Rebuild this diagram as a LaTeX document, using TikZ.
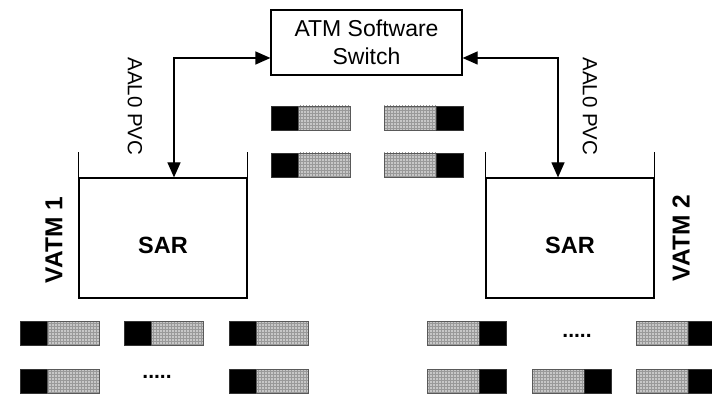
\documentclass[tikz,border=0pt]{standalone}
\usepackage{fontspec}
\setmainfont{Liberation Sans}
\usetikzlibrary{arrows.meta,patterns}

\tikzset{
  base/.style={line width=1.2pt},
  switchbox/.style={base, draw, minimum width=191pt, minimum height=65pt,
    inner sep=0pt, align=center, font=\fontsize{23}{28}\selectfont},
  sarbox/.style={base, draw, minimum width=168pt, minimum height=120pt,
    inner sep=0pt},
  sartext/.style={font=\bfseries\fontsize{23.5}{26}\selectfont, inner sep=0pt},
  vlabel/.style={font=\bfseries\fontsize{24.5}{26}\selectfont, inner sep=0pt},
  pvclabel/.style={font=\fontsize{20.5}{24}\selectfont, inner sep=0pt, rotate=-90},
  dots/.style={font=\bfseries\fontsize{21}{24}\selectfont, inner sep=0pt},
  conn/.style={base, {Triangle[width=13pt,length=15pt]}-{Triangle[width=13pt,length=15pt]}},
  blk/.style={draw=black!80, line width=0.8pt, fill=black, minimum width=27pt,
    minimum height=24pt, inner sep=0pt, outer sep=0pt, anchor=north west},
  gry/.style={draw=black!65, line width=0.8pt, preaction={fill=black!22},
    pattern=grid, pattern color=black!40, minimum width=52pt,
    minimum height=24pt, inner sep=0pt, outer sep=0pt, anchor=north west},
}

% cell with header on the left: x, y, name
\newcommand\hdrleft[3]{%
  \node[blk] (#3h) at (#1,#2) {};
  \node[gry] (#3p) at (#1+27,#2) {};}
% cell with header on the right: x, y, name
\newcommand\hdrright[3]{%
  \node[gry] (#3p) at (#1,#2) {};
  \node[blk] (#3h) at (#1+52,#2) {};}

\begin{document}
\begin{tikzpicture}[x=1pt,y=-1pt]
\useasboundingbox (0,0) rectangle (712,395);

% switch
\node[switchbox] (sw) at (366.5,42.5) {ATM Software\\Switch};

% two SAR entities
\node[sarbox] (sar1) at (163,238) {};
\node[sarbox] (sar2) at (570,238) {};
\node[sartext] (sar1t) at (163,245) {SAR};
\node[sartext] (sar2t) at (570,245) {SAR};
\draw[base] (sar1.north west) -- ++(0,-25);
\draw[base] (sar1.north east) -- ++(0,-25);
\draw[base] (sar2.north west) -- ++(0,-25);
\draw[base] (sar2.north east) -- ++(0,-25);

\node[vlabel, rotate=90] (v1) at (54,240) {VATM 1};
\node[vlabel, rotate=90] (v2) at (681,238) {VATM 2};

% PVC connections
\coordinate (s1) at ([xshift=11pt]sar1.north);
\coordinate (s2) at ([xshift=-12pt]sar2.north);
\draw[conn] ([yshift=-15.5pt]sw.west) -| (s1);
\draw[conn] ([yshift=-15.5pt]sw.east) -| (s2);
\node[pvclabel] (p1) at (135,106.5) {AAL0 PVC};
\node[pvclabel] (p2) at (590,106.5) {AAL0 PVC};

% cells in transit through the switch
\hdrleft{271}{106}{ma}
\hdrleft{271}{153}{mb}
\hdrright{384}{106}{mc}
\hdrright{384}{153}{md}

% cells at VATM 1
\hdrleft{20}{321}{la}
\hdrleft{124}{321}{lb}
\hdrleft{229}{321}{lc}
\hdrleft{20}{369}{ld}
\hdrleft{229}{369}{le}
\node[dots] (ldots) at (157,377) {.....};

% cells at VATM 2
\hdrright{427}{321}{ra}
\hdrright{636}{321}{rc}
\hdrright{427}{369}{rd}
\hdrright{532}{369}{re}
\hdrright{636}{369}{rf}
\node[dots] (rdots) at (577,336) {.....};
\end{tikzpicture}
\end{document}
